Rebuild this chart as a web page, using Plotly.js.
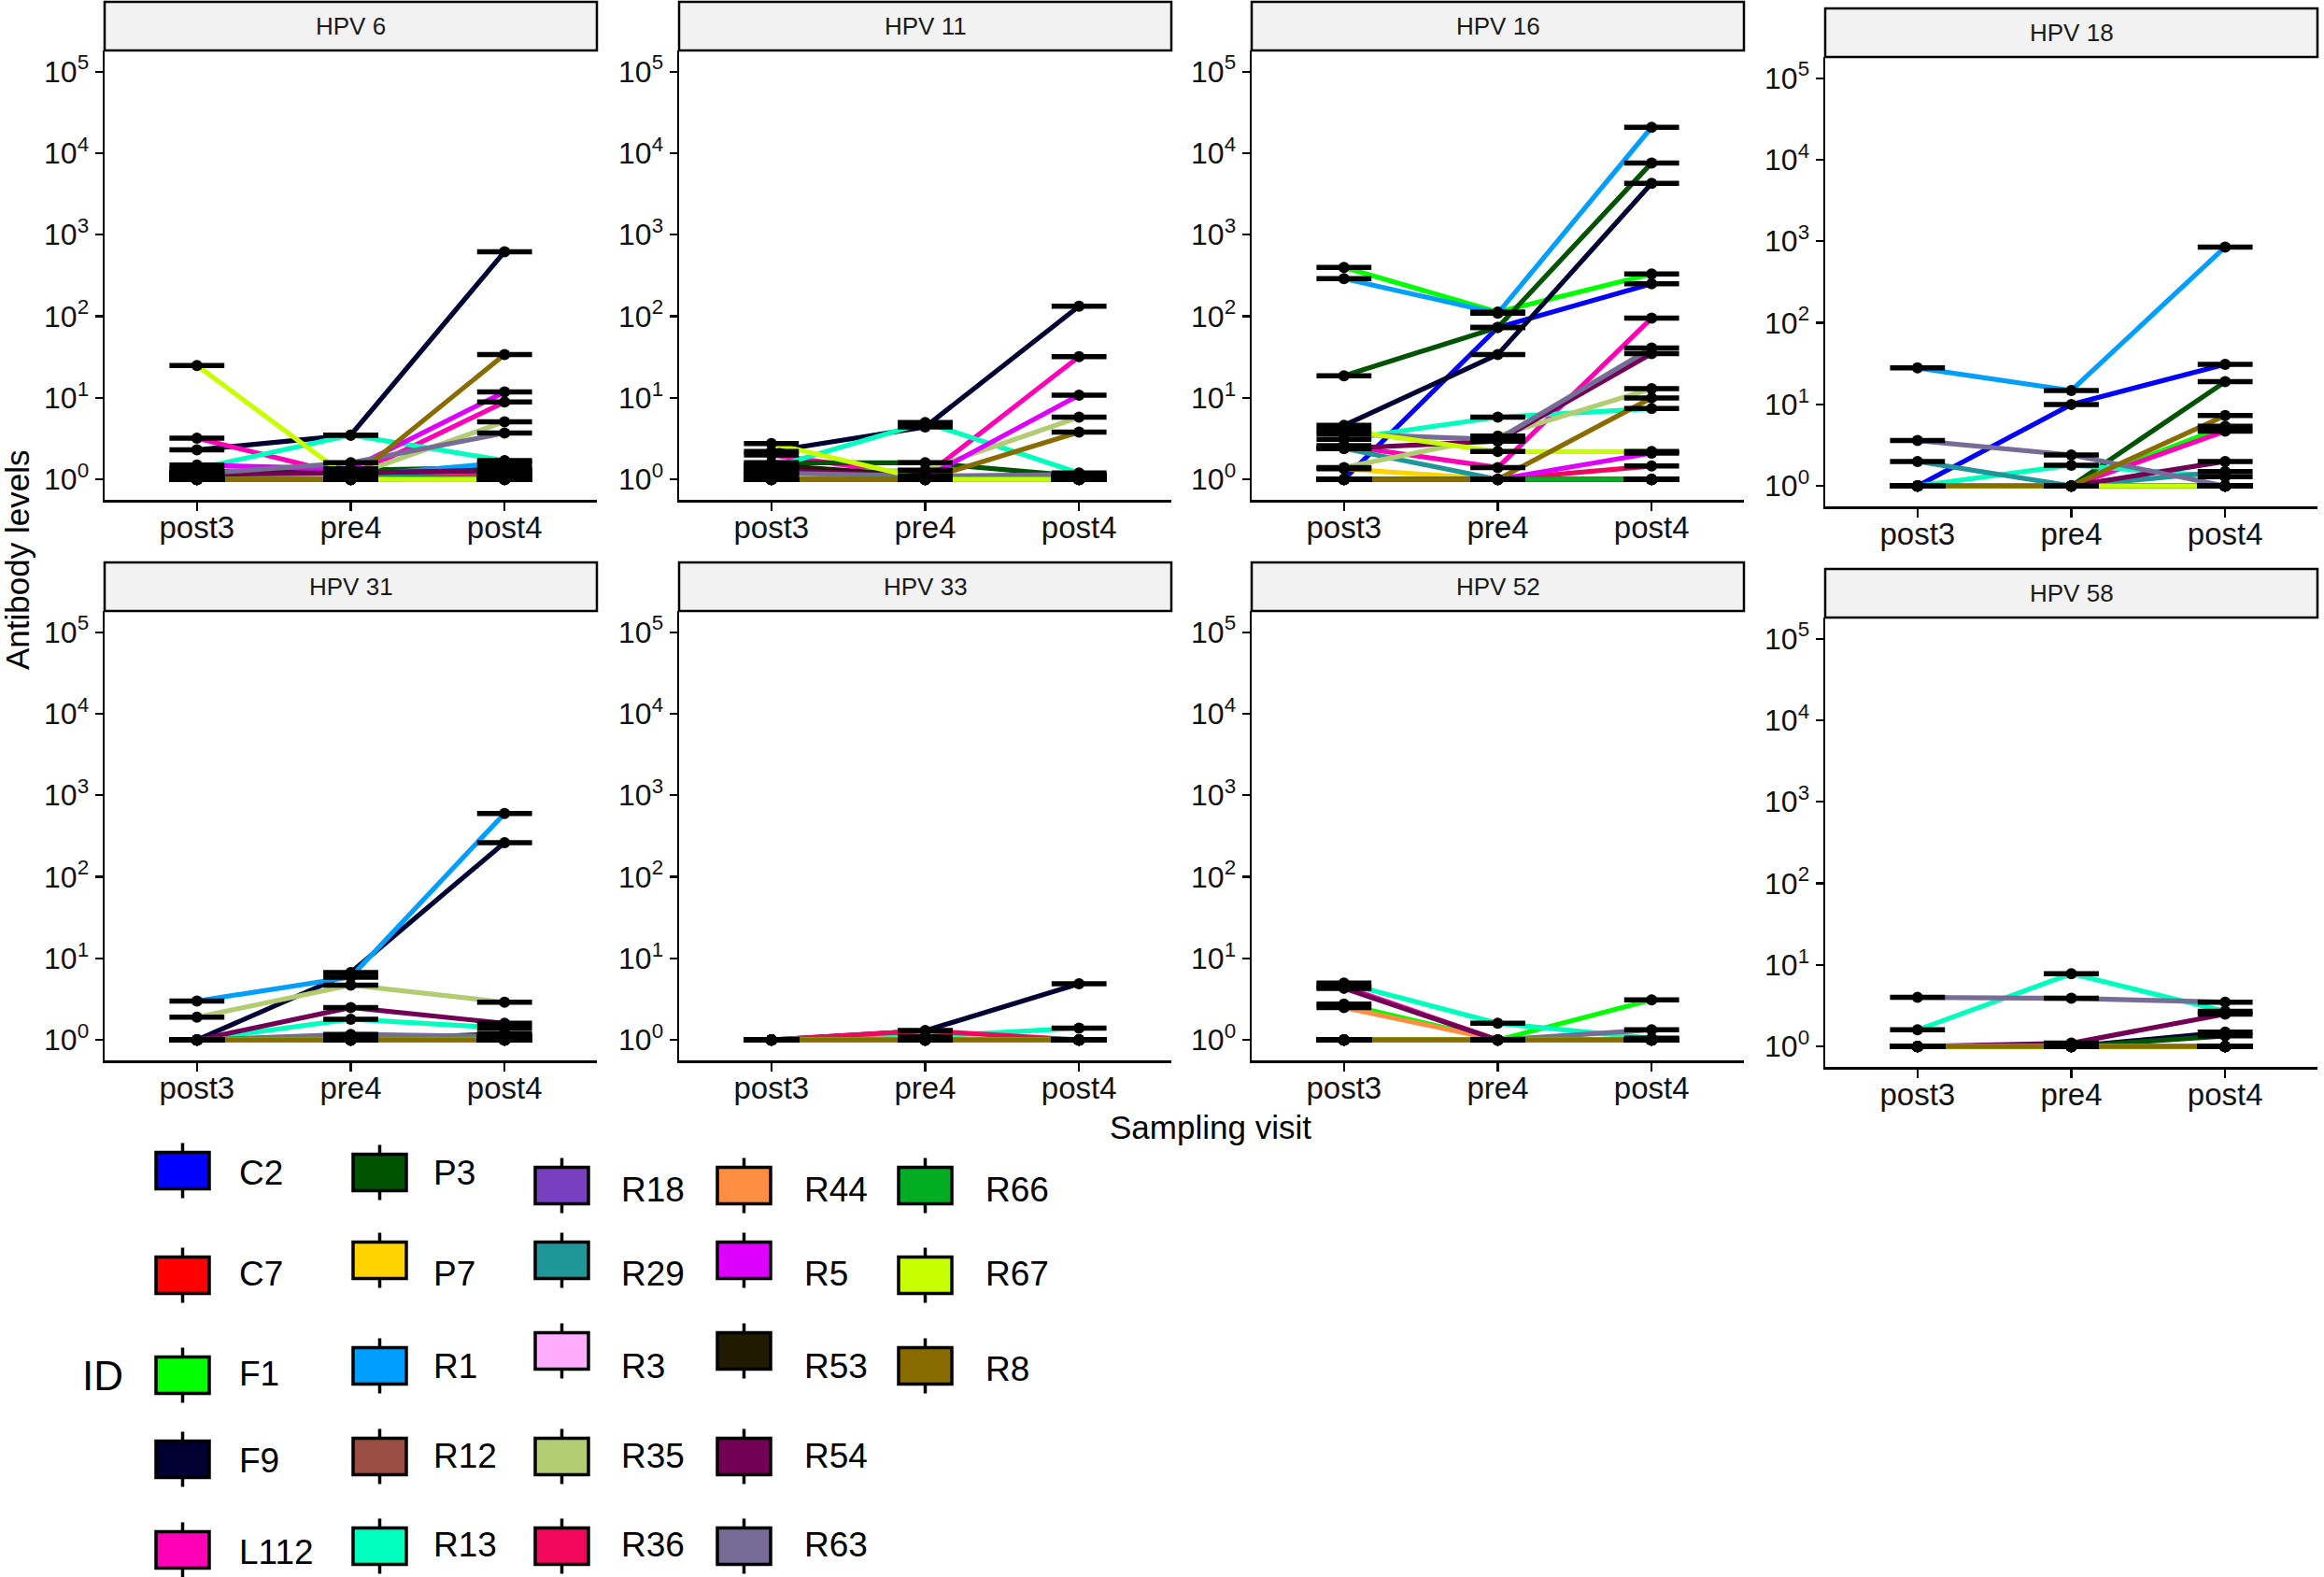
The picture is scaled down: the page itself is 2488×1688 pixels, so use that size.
<!DOCTYPE html>
<html><head><meta charset="utf-8">
<script src="https://cdn.plot.ly/plotly-3.0.1.min.js"></script>
<style>html,body{margin:0;padding:0;background:#fff}#chart{width:2488px;height:1688px}</style>
</head><body><div id="chart"></div>
<script>
// ---------------- DATA ----------------
const visits = ["post3", "pre4", "post4"];
const ids = ["C2","C7","F1","F9","L112","P3","P7","R1","R12","R13","R18","R29","R3","R35","R36","R44","R5","R53","R54","R63","R66","R67","R8"];
const idColors = ["#0000FF","#FF0000","#00FF00","#000033","#FF00B6","#005300","#FFD300","#009FFF","#9A4D42","#00FFBE","#783FC1","#1F9698","#FFACFD","#B1CC71","#F1085C","#FE8F42","#DD00FF","#201A01","#720055","#766C95","#02AD24","#C8FF00","#886C00"];
const panelNames = ["HPV 6","HPV 11","HPV 16","HPV 18","HPV 31","HPV 33","HPV 52","HPV 58"];

// values per ID (same order as ids): [post3, pre4, post4]
const hpv6 = [[1,1,1],[1,1,1],[1,1,1.05],[2.3,3.5,620],[3.2,1.1,8.9],[1.25,1.3,1.4],[1,1,1],[1.1,1.1,1.6],[1,1,1.2],[1.35,3.5,1.7],[1,1,1.1],[1.1,1.1,1.2],[1,1,1],[1.05,1.1,5.1],[1,1,1.1],[1,1,1],[1.5,1.35,11.8],[1.2,1.2,1.3],[1.15,1.2,1.3],[1.17,1.6,3.7],[1,1,1.05],[25,1,1],[1,1,34]];
const hpv11 = [[1,1,1],[1,1,1],[1,1,1],[2.2,4.4,133],[2.0,1.1,32],[1.6,1.6,1.1],[1,1,1],[1.1,1,1.1],[1,1,1],[1.4,5.0,1.2],[1,1,1],[1.2,1,1.1],[1.1,1,1],[1.2,1.3,5.8],[1,1,1],[1,1,1],[1.4,1.05,10.8],[1.5,1.1,1.1],[1.3,1.1,1.1],[1.2,1.1,1.15],[1,1,1],[2.75,1,1],[1,1,3.8]];
const hpv16 = [[1,73,251],[1,1,1],[398,113,331],[4.6,34,4270],[2.6,1.4,95],[18.7,73,7600],[1.35,1,1],[290,109,20800],[1,1,1],[3.1,5.8,7.4],[1,1,1],[2.4,1,1],[1,1,1],[1.4,3.4,13],[1,1,1.46],[1,1,1],[1,1,2.1],[1,1,1],[2.4,2.95,35],[3.6,3.1,41],[1,1,1],[4.0,2.2,2.2],[1,1,10]];
const hpv18 = [[1,10,31],[1,1,1],[1,1,5.4],[1,1,1],[1,1,4.7],[1,1,19],[1,1,1],[28,14.8,850],[1,1,1],[1,1.8,1.3],[1,1,1],[2.0,1,1.5],[1,1,1],[1,1,1],[1,1,1],[1,1,1],[1,1,1],[1,1,1],[1,1,2.0],[3.6,2.4,1],[1,1,1],[1,1,1],[1,1,7.3]];
const hpv31 = [[1,1,1],[1,1,1],[1,1,1.1],[1,6.7,263],[1,1,1.1],[1,1,1.2],[1,1,1],[3.0,5.9,600],[1,1,1],[1,1.8,1.4],[1,1,1],[1,1,1.1],[1,1,1],[1.9,4.7,2.9],[1,1,1],[1,1,1],[1,1,1.1],[1,1,1],[1,2.5,1.6],[1,1.17,1.1],[1,1,1],[1,1,1],[1,1,1]];
const hpv33 = [[1,1,1],[1,1,1],[1,1,1],[1,1.3,4.9],[1,1,1],[1,1,1],[1,1,1],[1,1,1],[1,1,1],[1,1.1,1.4],[1,1,1],[1,1,1],[1,1,1],[1,1,1],[1,1.3,1],[1,1,1],[1,1,1],[1,1,1],[1,1,1],[1,1,1],[1,1,1],[1,1,1],[1,1,1]];
const hpv52 = [[1,1,1],[1,1,1],[2.75,1,3.1],[1,1,1],[4.5,1,1],[1,1,1],[1,1,1],[1,1,1],[1,1,1],[5.0,1.6,1.05],[1,1,1],[1,1,1],[1,1,1],[1,1,1],[1,1,1],[2.5,1,1],[1,1,1],[1,1,1],[4.3,1,1],[1,1,1.33],[1,1,1],[1,1,1],[1,1,1]];
const hpv58 = [[1,1,1],[1,1,1],[1,1,1],[1,1,1.5],[1,1,1],[1,1,1.35],[1,1,1],[1,1,1],[1,1,1],[1.6,7.8,2.7],[1,1,1],[1,1,1],[1,1,1],[1,1,1],[1,1,1],[1,1,1],[1,1,1],[1,1,1],[1,1.1,2.5],[4.0,3.9,3.5],[1,1,1],[1,1,1],[1,1,1]];
const panelData = [hpv6, hpv11, hpv16, hpv18, hpv31, hpv33, hpv52, hpv58];

const yTickVals = [1, 10, 100, 1000, 10000, 100000];
const yTickText = ["10<sup>0</sup>","10<sup>1</sup>","10<sup>2</sup>","10<sup>3</sup>","10<sup>4</sup>","10<sup>5</sup>"];

// ---------------- LAYOUT CONSTANTS ----------------
const W = 2488, H = 1688;
const FONT = "Liberation Sans, Arial, sans-serif";
const colLeft = [112, 727, 1340, 1954];
const panelW = 527;
const panelTop = [54, 54, 54, 61, 654, 654, 654, 661];
const plotH = 481;
const stripH = 52;

const px = v => v / W;
const py = v => 1 - v / H;

const traces = [];
const layout = {
  width: W, height: H,
  margin: {l: 0, r: 0, t: 0, b: 0},
  paper_bgcolor: "#fff", plot_bgcolor: "#fff",
  showlegend: false,
  font: {family: FONT, color: "#000"},
  shapes: [], annotations: []
};

panelNames.forEach((name, p) => {
  const n = p + 1;
  const xa = "xaxis" + (n === 1 ? "" : n), ya = "yaxis" + (n === 1 ? "" : n);
  const xr = "x" + (n === 1 ? "" : n), yr = "y" + (n === 1 ? "" : n);
  const left = colLeft[p % 4], top = panelTop[p];
  layout[xa] = {
    domain: [px(left), px(left + panelW)], anchor: yr,
    type: "category", categoryorder: "array", categoryarray: visits,
    range: [-0.6, 2.6], showgrid: false, zeroline: false,
    showline: true, linecolor: "#000", linewidth: 2.5,
    ticks: "outside", ticklen: 9, tickwidth: 2.2, tickcolor: "#000",
    ticklabelstandoff: -10,
    tickfont: {size: 33, color: "#111", family: FONT}, fixedrange: true
  };
  layout[ya] = {
    domain: [py(top + plotH), py(top)], anchor: xr,
    type: "log", range: [-0.25, 5.26], showgrid: false, zeroline: false,
    showline: true, linecolor: "#000", linewidth: 2.5,
    tickvals: yTickVals, ticktext: yTickText,
    ticks: "outside", ticklen: 8, tickwidth: 2.2, tickcolor: "#000",
    tickfont: {size: 32, color: "#111", family: FONT}, fixedrange: true
  };
  const vals = panelData[p];
  ids.forEach((id, k) => {
    traces.push({
      type: "scatter", mode: "lines", xaxis: xr, yaxis: yr,
      x: visits, y: vals[k], name: id,
      line: {color: idColors[k], width: 5.2}, hoverinfo: "skip", showlegend: false
    });
  });
  const ax = [], ay = [];
  ids.forEach((id, k) => visits.forEach((v, j) => { ax.push(v); ay.push(vals[k][j]); }));
  traces.push({
    type: "scatter", mode: "markers", xaxis: xr, yaxis: yr, x: ax, y: ay,
    marker: {symbol: "line-ew", size: 42, color: "#000", line: {color: "#000", width: 5.5}},
    hoverinfo: "skip", showlegend: false
  });
  traces.push({
    type: "scatter", mode: "markers", xaxis: xr, yaxis: yr, x: ax, y: ay,
    marker: {symbol: "circle", size: 12, color: "#000"},
    hoverinfo: "skip", showlegend: false
  });
  // strip
  layout.shapes.push({
    type: "rect", xref: "paper", yref: "paper",
    x0: px(left), x1: px(left + panelW), y0: py(top), y1: py(top - stripH),
    fillcolor: "#F2F2F2", line: {color: "#000", width: 2.5}
  });
  layout.annotations.push({
    xref: "paper", yref: "paper", x: px(left + panelW / 2), y: py(top - stripH / 2),
    text: name, showarrow: false, xanchor: "center", yanchor: "middle",
    font: {size: 26, color: "#1a1a1a", family: FONT}
  });
});

// axis titles
layout.annotations.push({
  xref: "paper", yref: "paper", x: px(18), y: py(600), text: "Antibody levels",
  textangle: -90, showarrow: false, xanchor: "center", yanchor: "middle",
  font: {size: 35, color: "#000", family: FONT}
});
layout.annotations.push({
  xref: "paper", yref: "paper", x: px(1296), y: py(1206), text: "Sampling visit",
  showarrow: false, xanchor: "center", yanchor: "middle",
  font: {size: 35, color: "#000", family: FONT}
});

// legend (built from ids / idColors), column-major, 5 per column
const legKeyLeft = [167, 378, 573, 768, 962];
const legLabelLeft = [254, 462, 663, 859, 1053];
const legKeyY = [[1253,1365,1472,1562,1659],[1255,1349,1462,1559,1655],[1269,1349,1446,1559,1655],[1269,1349,1446,1559,1655],[1269,1365,1462]];
const legLabelY = [[1255,1363,1470,1563,1661],[1255,1363,1462,1558,1653],[1273,1363,1462,1558,1653],[1273,1363,1462,1558,1653],[1273,1363,1465]];
const keyW = 57, keyH = 39, tickL = 10;
layout.annotations.push({
  xref: "paper", yref: "paper", x: px(110), y: py(1472), text: "ID",
  showarrow: false, xanchor: "center", yanchor: "middle",
  font: {size: 44, color: "#000", family: FONT}
});
ids.forEach((id, k) => {
  const c = Math.floor(k / 5), r = k % 5;
  const kl = legKeyLeft[c], cy = legKeyY[c][r], cx = kl + keyW / 2;
  layout.shapes.push({type: "line", xref: "paper", yref: "paper",
    x0: px(cx), x1: px(cx), y0: py(cy - keyH / 2 - tickL), y1: py(cy + keyH / 2 + tickL),
    line: {color: "#000", width: 3.5}});
  layout.shapes.push({type: "rect", xref: "paper", yref: "paper",
    x0: px(kl), x1: px(kl + keyW), y0: py(cy + keyH / 2), y1: py(cy - keyH / 2),
    fillcolor: idColors[k], line: {color: "#000", width: 3.5}});
  layout.annotations.push({
    xref: "paper", yref: "paper", x: px(legLabelLeft[c]), y: py(legLabelY[c][r]), text: id,
    showarrow: false, xanchor: "left", yanchor: "middle",
    font: {size: 37, color: "#000", family: FONT}
  });
});

Plotly.newPlot("chart", traces, layout, {staticPlot: true, displayModeBar: false});
</script>
</body></html>
